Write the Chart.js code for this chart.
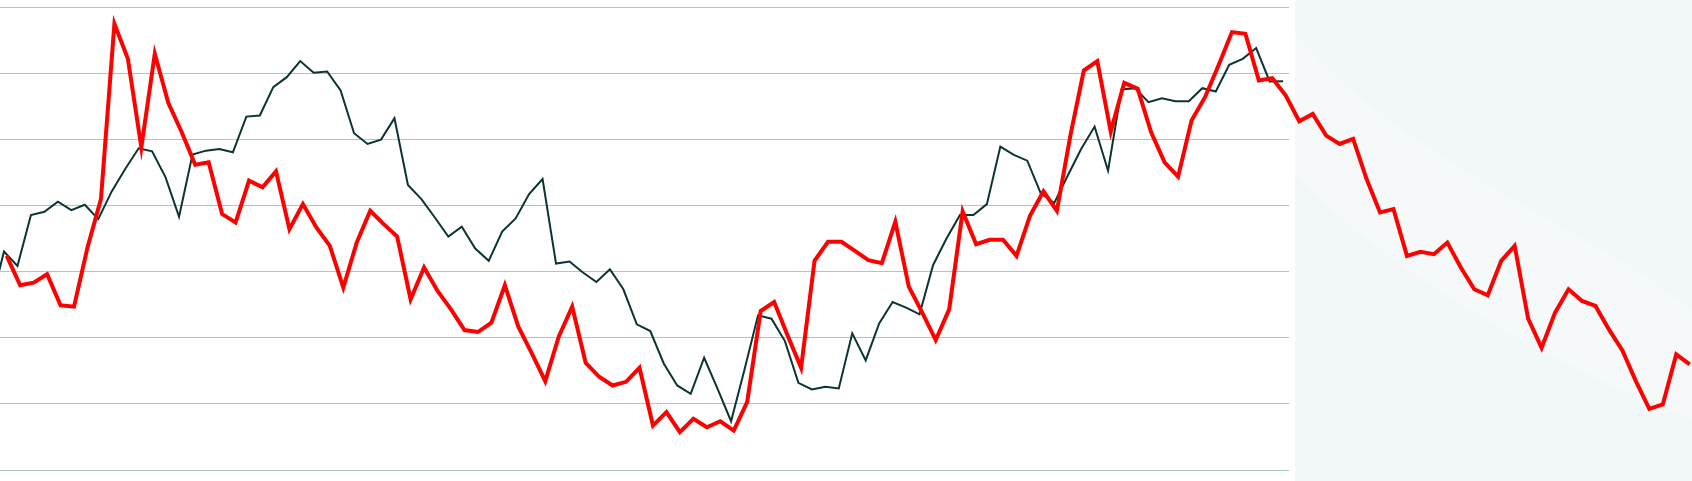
<!DOCTYPE html>
<html>
<head>
<meta charset="utf-8">
<script src="https://cdn.jsdelivr.net/npm/chart.js@4/dist/chart.umd.min.js"></script>
<style>
  html, body { margin: 0; padding: 0; background: #ffffff; }
  #wrap { width: 1692px; height: 481px; position: relative; }
</style>
</head>
<body>
<div id="wrap"><canvas id="c" width="1692" height="481"></canvas></div>
<script>
// ---- data ----
const redValues = [
  32.37, 27.93, 28.33, 29.60, 24.90, 24.70, 33.64, 40.96, 67.47, 62.17,
  48.79, 62.93, 55.51, 51.06, 46.16, 46.52, 38.69, 37.42, 43.74, 42.73,
  45.15, 36.41, 40.20, 36.67, 33.89, 27.58, 34.39, 39.19, 37.17, 35.30,
  25.81, 30.61, 27.07, 24.29, 21.16, 20.86, 22.27, 27.93, 21.67, 17.63,
  13.43, 20.15, 24.70, 16.21, 14.09, 12.78, 13.33, 15.45, 6.72, 8.74,
  5.71, 7.73, 6.46, 7.37, 5.96, 10.30, 24.04, 25.40, 20.35, 15.45,
  31.62, 34.49, 34.49, 33.13, 31.72, 31.26, 37.53, 27.73, 23.79, 19.65,
  24.29, 39.09, 34.14, 34.80, 34.80, 32.37, 38.43, 42.12, 39.19, 50.56,
  60.40, 61.82, 51.16, 58.54, 57.63, 51.06, 46.52, 44.34, 52.83, 56.36,
  61.16, 66.21, 65.96, 58.89, 59.24, 56.62, 52.73, 53.84, 50.56, 49.29,
  50.05, 43.99, 38.94, 39.44, 32.37, 32.98, 32.63, 34.39, 30.61, 27.32,
  26.41, 31.62, 33.89, 22.88, 18.48, 23.79, 27.32, 25.56, 24.80, 21.26,
  18.08, 13.43, 9.24, 9.90, 17.47, 15.96
];
const blackValues = [
  24.95, 33.03, 30.86, 38.54, 39.04, 40.56, 39.29, 40.10, 37.93, 42.12,
  45.51, 48.64, 48.18, 44.24, 38.28, 47.68, 48.28, 48.54, 48.03, 53.43,
  53.59, 57.88, 59.39, 61.82, 60.05, 60.25, 57.37, 50.91, 49.29, 49.95,
  53.18, 43.08, 40.96, 38.18, 35.30, 36.77, 33.48, 31.62, 36.06, 38.03,
  41.72, 43.99, 31.21, 31.52, 29.85, 28.43, 30.35, 27.32, 22.02, 21.01,
  16.11, 12.78, 11.52, 16.97, 12.27, 7.37, 15.20, 23.38, 22.88, 19.49,
  13.18, 12.17, 12.58, 12.32, 20.66, 16.57, 22.17, 25.40, 24.55, 23.54,
  30.96, 35.00, 38.54, 38.54, 40.20, 48.89, 47.63, 46.77, 41.82, 40.35,
  44.49, 48.54, 51.92, 45.25, 57.53, 57.73, 55.61, 56.21, 55.76, 55.76,
  57.73, 57.22, 61.26, 62.17, 63.79, 58.74, 58.79
];
const blackFirstIndex = -1;   // black series starts one step before the red one
const blackLag = -0.2;        // black series sits slightly left of the red steps
const yTicks = [0, 10, 20, 30, 40, 50, 60, 70];

// ---- build datasets ----
const redData = redValues.map((v, i) => ({ x: i, y: v }));
const blackData = blackValues.map((v, i) => ({ x: i + blackFirstIndex + blackLag, y: v }));

const gridEndIndex = 95.25;
const shadeStartIndex = 95.7;

const shadePlugin = {
  id: 'shade',
  beforeDatasetsDraw(chart) {
    const { ctx, chartArea, scales } = chart;
    const xs = scales.x;
    const gEnd = xs.getPixelForValue(gridEndIndex);
    const sStart = xs.getPixelForValue(shadeStartIndex);
    const W = chart.width, H = chart.height;
    ctx.save();
    ctx.fillStyle = '#ffffff';
    ctx.fillRect(gEnd, 0, W - gEnd, H);
    ctx.fillStyle = '#f2f7f8';
    ctx.fillRect(sStart, 0, W - sStart, H);
    // faint lighter swoosh inside the shaded panel
    ctx.beginPath();
    ctx.moveTo(sStart, 35);
    ctx.bezierCurveTo(sStart + 120, 170, sStart + 300, 230, W, 310);
    ctx.lineTo(W, 420);
    ctx.bezierCurveTo(sStart + 320, 390, sStart + 120, 300, sStart, 175);
    ctx.closePath();
    ctx.fillStyle = 'rgba(255,255,255,0.28)';
    ctx.fill();
    ctx.restore();
  }
};

new Chart(document.getElementById('c'), {
  type: 'line',
  data: {
    datasets: [
      {
        label: 'red',
        data: redData,
        borderColor: '#ff0000',
        borderWidth: 4,
        pointRadius: 0,
        tension: 0,
        clip: false,
        order: 0
      },
      {
        label: 'black',
        data: blackData,
        borderColor: '#0b3433',
        borderWidth: 2,
        pointRadius: 0,
        tension: 0,
        clip: false,
        order: 1
      }
    ]
  },
  options: {
    responsive: false,
    animation: false,
    events: [],
    layout: { padding: { left: 0, right: 0, top: 7, bottom: 11 } },
    plugins: { legend: { display: false }, tooltip: { enabled: false } },
    scales: {
      x: {
        type: 'linear',
        min: -0.4976,
        max: 125.17,
        display: false
      },
      y: {
        min: yTicks[0],
        max: yTicks[yTicks.length - 1],
        afterBuildTicks: (s) => { s.ticks = yTicks.map(v => ({ value: v })); },
        afterFit: (s) => { s.width = 0; },
        ticks: { display: false },
        border: { display: false },
        grid: { color: '#a9c8c8', lineWidth: 1, drawTicks: false }
      }
    }
  },
  plugins: [shadePlugin]
});
</script>
</body>
</html>
